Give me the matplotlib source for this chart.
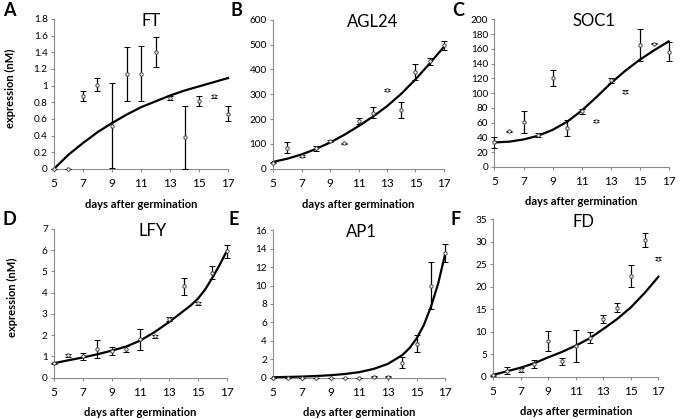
import numpy as np
import matplotlib.pyplot as plt

plt.rcParams['font.family'] = ['Lato', 'DejaVu Sans']

days = [5, 6, 7, 8, 9, 10, 11, 12, 13, 14, 15, 16, 17]
# finer grid for the steep end of the fitted curves
fit_days_fine = [5, 6, 7, 8, 9, 10, 11, 12, 13, 14, 14.5, 15, 15.5, 16, 16.5, 17]

ft_mean = [0, 0, 0.88, 1.01, 0.52, 1.14, 1.14, 1.40, 0.85, 0.38, 0.82, 0.87, 0.66]
ft_err = [0, 0, 0.06, 0.08, 0.51, 0.32, 0.33, 0.18, 0.02, 0.38, 0.06, 0.02, 0.09]
ft_fit = [0, 0.17, 0.31, 0.44, 0.55, 0.65, 0.74, 0.81, 0.88, 0.94, 0.99, 1.04, 1.09]

agl_mean = [25, 85, 52, 82, 113, 103, 192, 225, 318, 238, 388, 432, 497]
agl_err = [2, 22, 3, 10, 5, 3, 12, 22, 5, 32, 32, 15, 18]
agl_fit = [28, 41, 58, 80, 106, 137, 172, 210, 252, 302, 360, 424, 491]

soc_mean = [33, 48, 61, 43, 120, 53, 75, 62, 117, 102, 165, 167, 156]
soc_err = [7, 1, 15, 3, 11, 11, 4, 1, 4, 2, 22, 1, 13]
soc_fit = [33, 34, 37, 42, 50, 61, 76, 94, 113, 130, 145, 158, 170]

lfy_mean = [0.68, 1.05, 1.0, 1.35, 1.25, 1.35, 1.8, 1.95, 2.75, 4.3, 3.5, 4.95, 5.95]
lfy_err = [0.03, 0.07, 0.15, 0.42, 0.18, 0.12, 0.5, 0.08, 0.1, 0.4, 0.08, 0.3, 0.3]
lfy_fit = [0.68, 0.82, 0.95, 1.1, 1.27, 1.46, 1.75, 2.15, 2.62, 3.14, 3.4, 3.72, 4.15, 4.7, 5.3, 5.96]

ap1_mean = [0.02, 0.02, 0.02, 0.02, 0.02, 0.02, 0.02, 0.08, 0.12, 1.6, 3.7, 10.0, 13.5]
ap1_err = [0, 0, 0, 0, 0, 0, 0, 0.05, 0.08, 0.6, 0.9, 2.6, 0.95]
ap1_fit = [0.05, 0.08, 0.12, 0.18, 0.27, 0.4, 0.6, 0.95, 1.5, 2.45, 3.2, 4.26, 5.7, 7.7, 10.2, 13.5]

fd_mean = [0.3, 1.3, 1.5, 2.8, 7.9, 3.4, 6.8, 8.7, 12.8, 15.3, 22.3, 30.3, 26.2]
fd_err = [0.1, 0.8, 0.5, 0.9, 2.2, 0.8, 3.5, 1.2, 0.9, 1.0, 2.4, 1.6, 0.3]
fd_fit = [0.4, 1.2, 2.0, 3.0, 4.3, 5.5, 6.9, 8.5, 10.6, 12.8, 15.4, 18.6, 22.2]

ft_ticklabels = ['0', '0.2', '0.4', '0.6', '0.8', '1', '1.2', '1.4', '1.6', '1.8']

panels = [
    ('FT', ft_mean, ft_err, days, ft_fit, 1.8, 0.2, [0.079, 0.597, 0.255, 0.358], 0.56),
    ('AGL24', agl_mean, agl_err, days, agl_fit, 600, 100, [0.400, 0.597, 0.250, 0.356], 0.58),
    ('SOC1', soc_mean, soc_err, days, soc_fit, 200, 20, [0.724, 0.602, 0.255, 0.352], 0.57),
    ('LFY', lfy_mean, lfy_err, fit_days_fine, lfy_fit, 7, 1, [0.079, 0.0986, 0.253, 0.355], 0.57),
    ('AP1', ap1_mean, ap1_err, fit_days_fine, ap1_fit, 16, 2, [0.400, 0.0986, 0.252, 0.352], 0.51),
    ('FD', fd_mean, fd_err, days, fd_fit, 35, 5, [0.722, 0.101, 0.242, 0.376], 0.545),
]

fig = plt.figure(figsize=(6.83, 4.19), dpi=100)
grey = '#8c8c8c'

for name, mean, err, fdays, fit, ymax, ystep, pos, tx in panels:
    ax = fig.add_axes(pos)
    ax.plot(fdays, fit, color='black', lw=1.6, zorder=2, clip_on=False,
            solid_joinstyle='round')
    ax.errorbar(days, mean, yerr=err, fmt='o', ms=2.4, mfc='white', mec='#444444',
                mew=0.7, ecolor='black', elinewidth=0.9, capsize=2.4, capthick=0.9,
                zorder=3, clip_on=False)
    ax.set_xlim(5, 17)
    ax.set_ylim(0, ymax)
    ax.set_xticks(range(5, 18, 2))
    ax.set_yticks(np.arange(0, ymax + ystep / 2, ystep))
    if name == 'FT':
        ax.set_yticklabels(ft_ticklabels)
    for s in ['top', 'right']:
        ax.spines[s].set_visible(False)
    for s in ['left', 'bottom']:
        ax.spines[s].set_color(grey)
        ax.spines[s].set_linewidth(0.8)
    ax.tick_params(axis='both', color=grey, length=2.5, width=0.8, pad=2)
    ax.tick_params(axis='x', labelsize=8.5, pad=4)
    ax.tick_params(axis='y', labelsize=7.2)
    ax.text(tx, 0.985, name, transform=ax.transAxes, ha='center', va='center', fontsize=12)
    cx = pos[0] + pos[2] / 2
    fig.text(cx, pos[1] - 0.084, 'days after germination', ha='center', va='center',
             fontsize=8, fontweight='bold')

letters = [('A', 0.004, 0.975), ('B', 0.338, 0.975), ('C', 0.662, 0.975),
           ('D', 0.004, 0.475), ('E', 0.334, 0.475), ('F', 0.660, 0.475)]
for l, x, y in letters:
    fig.text(x, y, l, fontsize=13, fontweight='bold', ha='left', va='center')

fig.text(0.015, 0.79, 'expression (nM)', rotation=90, ha='center', va='center',
         fontsize=8, fontweight='bold')
fig.text(0.018, 0.29, 'expression (nM)', rotation=90, ha='center', va='center',
         fontsize=8, fontweight='bold')

fig.savefig('out.png', dpi=100)
